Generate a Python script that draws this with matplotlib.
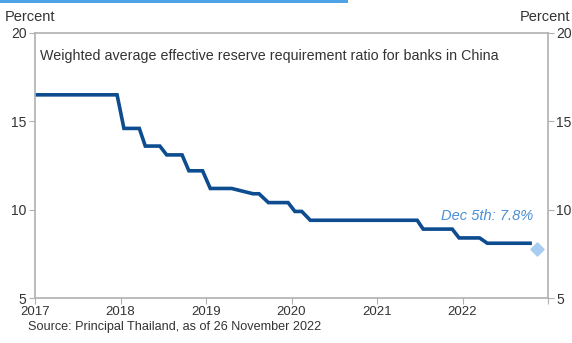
import matplotlib
matplotlib.use("Agg")
from matplotlib import pyplot as plt
from matplotlib.patches import Rectangle

# weighted average RRR (decimal years, percent)
years = [2017.00, 2017.96, 2018.04, 2018.22, 2018.29, 2018.46, 2018.54,
         2018.72, 2018.80, 2018.96, 2019.05, 2019.30, 2019.55, 2019.62,
         2019.73, 2019.96, 2020.04, 2020.12, 2020.22, 2021.47, 2021.54,
         2021.88, 2021.96, 2022.20, 2022.29, 2022.79]
rrr = [16.5, 16.5, 14.6, 14.6, 13.6, 13.6, 13.1,
       13.1, 12.2, 12.2, 11.2, 11.2, 10.9, 10.9,
       10.4, 10.4, 9.9, 9.9, 9.4, 9.4, 8.9,
       8.9, 8.4, 8.4, 8.1, 8.1]
latestYear = 2022.87
latestValue = 7.8
latestLabel = 'Dec 5th: 7.8%'

yearTicks = [2017, 2018, 2019, 2020, 2021, 2022, 2023]
yearLabels = ['2017', '2018', '2019', '2020', '2021', '2022', '']
percentTicks = [5, 10, 15, 20]

plt.rcParams['font.family'] = ['Liberation Sans', 'DejaVu Sans']
textColor = '#333333'
spineColor = '#b0b0b0'

fig = plt.figure(figsize=(5.72, 3.43), dpi=100)
ax = fig.add_axes([35 / 572, 1 - 298 / 343, 513 / 572, 265 / 343])

ax.plot(years, rrr, color='#0d4c8f', linewidth=2.6, solid_joinstyle='miter', zorder=2)
ax.scatter([latestYear], [latestValue], marker='D', s=45, color='#a9cdf0', zorder=3)
ax.text(2022.83, 9.62, latestLabel, color='#4a8fd6', style='italic',
        fontsize=10.5, ha='right', va='center')

ax.set_xlim(2017, 2023)
ax.set_ylim(5, 20)
ax.set_xticks(yearTicks)
ax.set_xticklabels(yearLabels)
ax.set_yticks(percentTicks)

for side in ['left', 'right', 'top', 'bottom']:
    ax.spines[side].set_color(spineColor)
    ax.spines[side].set_linewidth(1.2)

ax.tick_params(axis='x', direction='out', length=4, color=spineColor,
               labelsize=9.5, labelcolor=textColor, pad=2)
ax.tick_params(axis='y', direction='out', length=4, color=spineColor,
               labelsize=10, labelcolor=textColor, pad=2,
               right=True, labelright=True)

ax.text(0.01, 0.915, 'Weighted average effective reserve requirement ratio for banks in China',
        transform=ax.transAxes, fontsize=10.3, color=textColor, va='center')

fig.text(5 / 572, 1 - 17 / 343, 'Percent', fontsize=10.5, color=textColor, va='center')
fig.text(570 / 572, 1 - 17 / 343, 'Percent', fontsize=10.5, color=textColor, va='center', ha='right')
fig.text(28 / 572, 1 - 327 / 343, 'Source: Principal Thailand, as of 26 November 2022',
         fontsize=9.1, color=textColor, va='center')

fig.add_artist(Rectangle((0, 1 - 2.5 / 343), 348 / 572, 2.5 / 343,
                         transform=fig.transFigure, color='#4ea3e6', linewidth=0))

fig.savefig('out.png', dpi=100)
